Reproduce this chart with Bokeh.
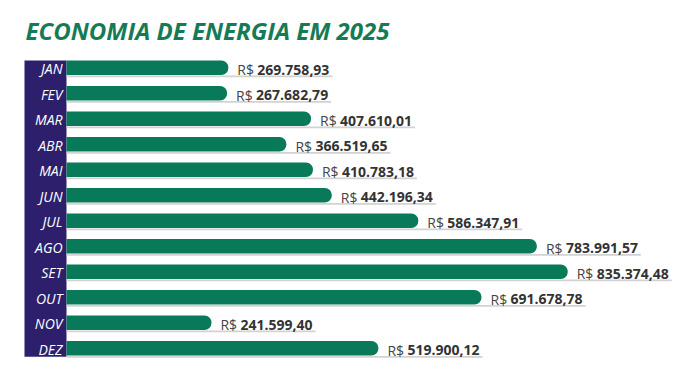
from bokeh.plotting import figure
from bokeh.models import Range1d, Label, ColumnDataSource
from bokeh.core.properties import value
from bokeh.embed import file_html
from bokeh.resources import INLINE

months = ["JAN", "FEV", "MAR", "ABR", "MAI", "JUN", "JUL", "AGO", "SET", "OUT", "NOV", "DEZ"]
savings = [269758.93, 267682.79, 407610.01, 366519.65, 410783.18, 442196.34,
           586347.91, 783991.57, 835374.48, 691678.78, 241599.40, 519900.12]
title_text = "ECONOMIA DE ENERGIA EM 2025"
currency = "R$"


def fmt_brl(v):
    s = f"{v:,.2f}"
    return s.replace(",", "X").replace(".", ",").replace("X", ".")


W, H = 684, 366
x_start, x_end = -110000.0, 1030000.0
upp = (x_end - x_start) / W  # data units per pixel
y_top = -2.639
y_bottom = y_top + H / 25.5

rows = list(range(len(months)))
src = ColumnDataSource(dict(
    y=rows,
    month=months,
    val=savings,
    num=[fmt_brl(v) for v in savings],
    cur=[currency] * len(months),
    uline_y=[r + 0.335 for r in rows],
    uline_r=[v + 104 * upp for v in savings],
))

p = figure(width=W, height=H, x_range=Range1d(x_start, x_end),
           y_range=Range1d(y_bottom, y_top), output_backend="svg",
           toolbar_location=None, x_axis_location=None, y_axis_location=None,
           min_border=0, min_border_left=0, min_border_right=0,
           min_border_top=0, min_border_bottom=0,
           outline_line_color=None, background_fill_color="white",
           border_fill_color="white")
p.grid.visible = False

# purple month column
p.quad(left=[x_start + 24 * upp], right=[0], top=[-0.29], bottom=[11.33],
       fill_color="#2d1f6c", line_color=None)

# gray underline
p.hbar(y="uline_y", left=0, right="uline_r", height=0.07, source=src,
       fill_color="#d2d2d2", line_color=None)

# bars
p.hbar(y="y", left=0, right="val", height=0.57, source=src,
       fill_color="#087a5a", line_color=None, border_radius=(0, 7, 7, 0))

# month labels
p.text(x=0, y="y", text="month", source=src, x_offset=-4, y_offset=1,
       text_align="right", text_baseline="middle", text_color="white",
       text_font=value("Open Sans"), text_font_style="italic",
       text_font_size="14px")

# value labels
p.text(x="val", y="y", text="cur", source=src, x_offset=9, y_offset=2,
       text_align="left", text_baseline="alphabetic", text_color="#444444",
       text_font=value("Open Sans"), text_font_size="14px")
p.text(x="val", y="y", text="num", source=src, x_offset=29, y_offset=2,
       text_align="left", text_baseline="alphabetic", text_color="#333333",
       text_font=value("Open Sans"), text_font_style="bold",
       text_font_size="14px")

p.add_layout(Label(x=25, y=H - 29.5, x_units="screen", y_units="screen",
                   text=title_text, text_font="Open Sans",
                   text_font_style="bold italic", text_font_size="24px",
                   text_color="#157b56", text_baseline="alphabetic"))

open("out.html", "w").write(file_html(p, INLINE))
